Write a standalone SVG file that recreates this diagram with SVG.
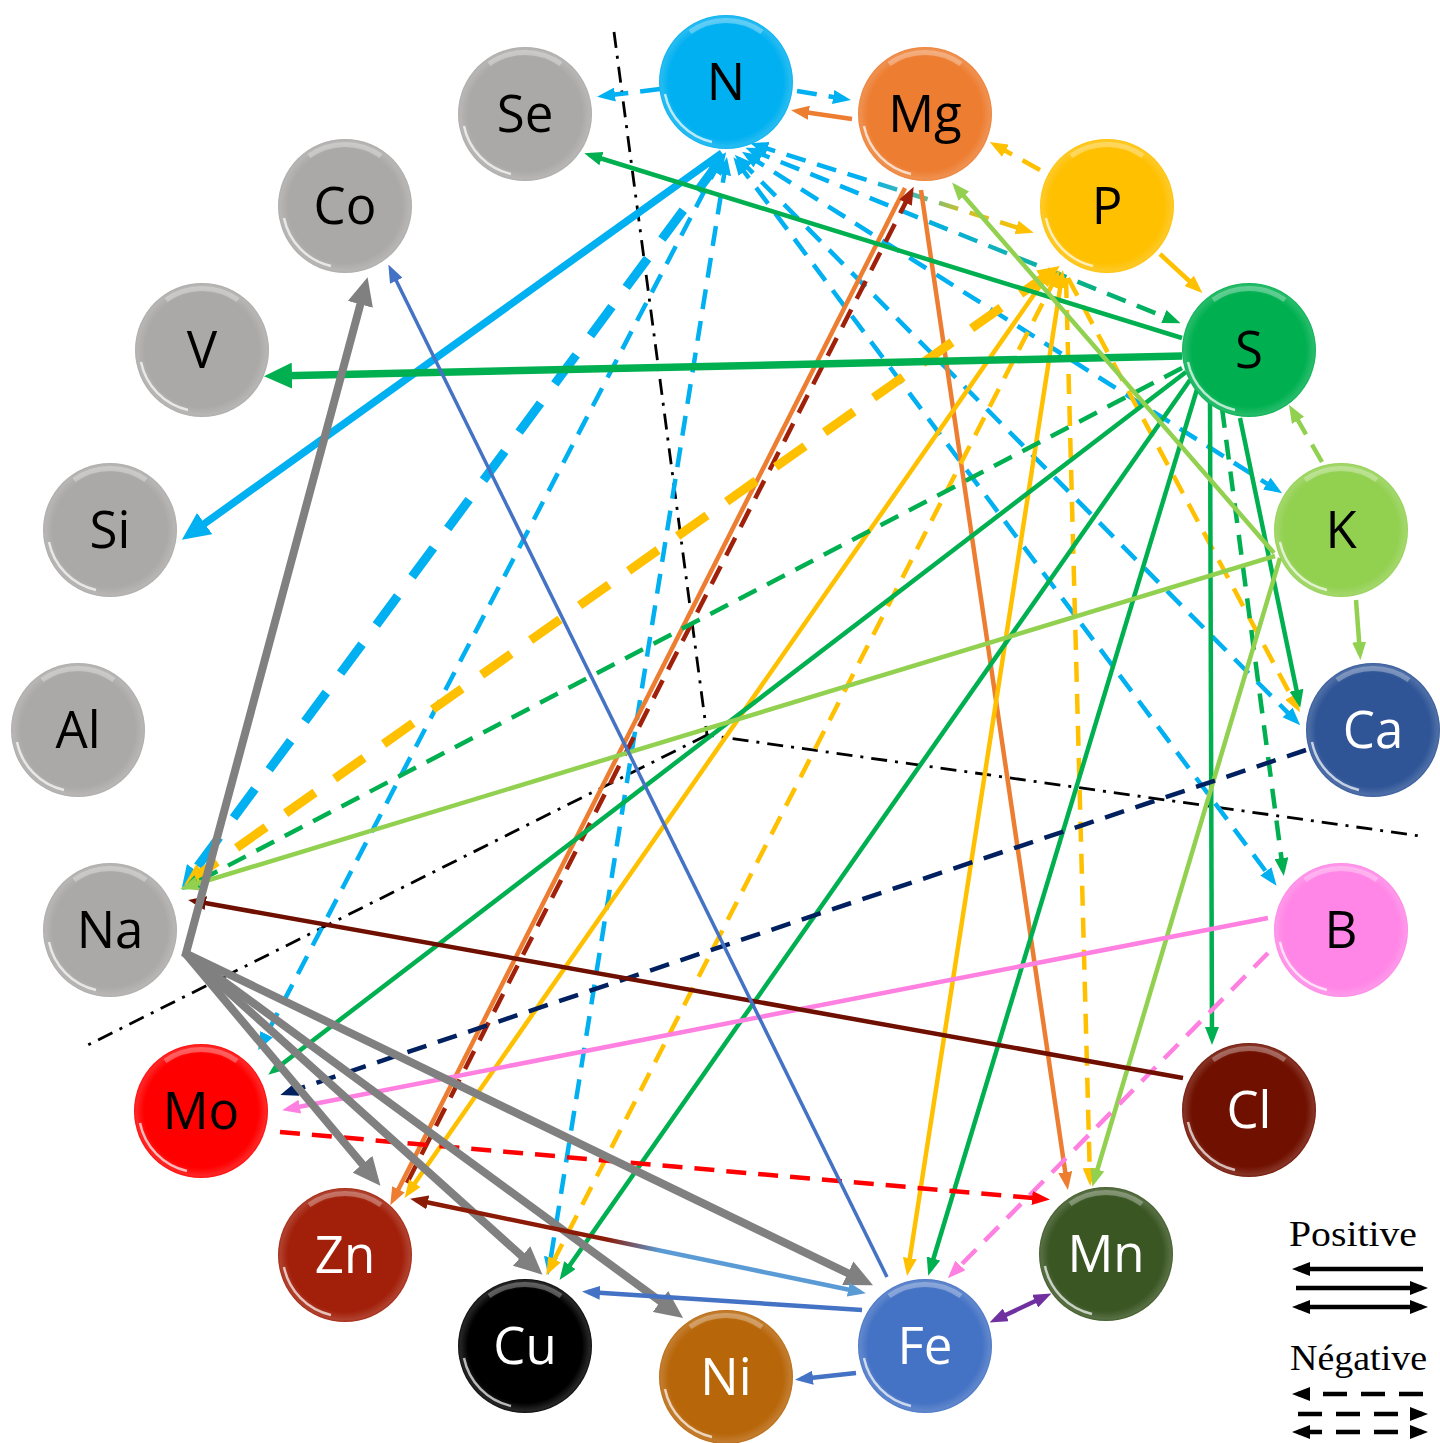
<svg xmlns="http://www.w3.org/2000/svg" xmlns:xlink="http://www.w3.org/1999/xlink" width="1440" height="1443" viewBox="0 0 1440 1443">
<style>
.lbl{font-family:"Open Sans","Noto Sans",sans-serif;font-size:51px;text-anchor:middle}
.w{fill:#fff}.k{fill:#000}
.d{stroke-dasharray:20 12}
.D{stroke-dasharray:36 24}
.leg{font-family:"Liberation Serif",serif;font-size:36px;fill:#000}
</style>
<defs>
<radialGradient id="rim" cx="50%" cy="50%" r="50%">
<stop offset="0.85" stop-color="#fff" stop-opacity="0"/>
<stop offset="0.97" stop-color="#fff" stop-opacity="0.15"/>
<stop offset="1" stop-color="#fff" stop-opacity="0.05"/>
</radialGradient>
<g id="gloss">
<circle r="67" fill="url(#rim)"/>
<path d="M-36,-50 A62,62 0 0 1 36,-50" fill="none" stroke="#fff" stroke-opacity="0.3" stroke-width="5"/>
<path d="M-61,12 A62,62 0 0 0 -14,60" fill="none" stroke="#fff" stroke-opacity="0.7" stroke-width="2.5"/>
</g>
<linearGradient id="g-ns" gradientUnits="userSpaceOnUse" x1="751" y1="150" x2="1175" y2="321">
<stop offset="0" stop-color="#00B0F0"/><stop offset="0.35" stop-color="#00B0F0"/><stop offset="0.6" stop-color="#10B0B8"/><stop offset="1" stop-color="#00B050"/>
</linearGradient>
<linearGradient id="g-np" gradientUnits="userSpaceOnUse" x1="756" y1="145" x2="1028" y2="231">
<stop offset="0" stop-color="#00B0F0"/><stop offset="0.4" stop-color="#00B0F0"/><stop offset="0.6" stop-color="#50B8A0"/><stop offset="0.75" stop-color="#C8C030"/><stop offset="1" stop-color="#FFC000"/>
</linearGradient>
<linearGradient id="g-znfe" gradientUnits="userSpaceOnUse" x1="416" y1="1200" x2="860" y2="1292">
<stop offset="0" stop-color="#8B1A06"/><stop offset="0.43" stop-color="#8B1A06"/><stop offset="0.55" stop-color="#5B9BD5"/><stop offset="1" stop-color="#5B9BD5"/>
</linearGradient>
<marker id="a-blue" viewBox="0 0 18 14" refX="12" refY="7" markerWidth="18" markerHeight="14" markerUnits="userSpaceOnUse" orient="auto-start-reverse"><path d="M0,0L18,7L0,14z" fill="#00B0F0"/></marker>
<marker id="a-orange" viewBox="0 0 18 14" refX="12" refY="7" markerWidth="18" markerHeight="14" markerUnits="userSpaceOnUse" orient="auto-start-reverse"><path d="M0,0L18,7L0,14z" fill="#ED7D31"/></marker>
<marker id="a-yellow" viewBox="0 0 18 14" refX="12" refY="7" markerWidth="18" markerHeight="14" markerUnits="userSpaceOnUse" orient="auto-start-reverse"><path d="M0,0L18,7L0,14z" fill="#FFC000"/></marker>
<marker id="a-green" viewBox="0 0 18 14" refX="12" refY="7" markerWidth="18" markerHeight="14" markerUnits="userSpaceOnUse" orient="auto-start-reverse"><path d="M0,0L18,7L0,14z" fill="#00B050"/></marker>
<marker id="a-lgreen" viewBox="0 0 18 14" refX="12" refY="7" markerWidth="18" markerHeight="14" markerUnits="userSpaceOnUse" orient="auto-start-reverse"><path d="M0,0L18,7L0,14z" fill="#92D050"/></marker>
<marker id="a-navy" viewBox="0 0 18 14" refX="12" refY="7" markerWidth="18" markerHeight="14" markerUnits="userSpaceOnUse" orient="auto-start-reverse"><path d="M0,0L18,7L0,14z" fill="#002060"/></marker>
<marker id="a-pink" viewBox="0 0 18 14" refX="12" refY="7" markerWidth="18" markerHeight="14" markerUnits="userSpaceOnUse" orient="auto-start-reverse"><path d="M0,0L18,7L0,14z" fill="#FF80E0"/></marker>
<marker id="a-darkred" viewBox="0 0 18 14" refX="12" refY="7" markerWidth="18" markerHeight="14" markerUnits="userSpaceOnUse" orient="auto-start-reverse"><path d="M0,0L18,7L0,14z" fill="#A0200A"/></marker>
<marker id="a-brown" viewBox="0 0 18 14" refX="12" refY="7" markerWidth="18" markerHeight="14" markerUnits="userSpaceOnUse" orient="auto-start-reverse"><path d="M0,0L18,7L0,14z" fill="#6F0F00"/></marker>
<marker id="a-znred" viewBox="0 0 18 14" refX="12" refY="7" markerWidth="18" markerHeight="14" markerUnits="userSpaceOnUse" orient="auto-start-reverse"><path d="M0,0L18,7L0,14z" fill="#8B1A06"/></marker>
<marker id="a-red" viewBox="0 0 18 14" refX="12" refY="7" markerWidth="18" markerHeight="14" markerUnits="userSpaceOnUse" orient="auto-start-reverse"><path d="M0,0L18,7L0,14z" fill="#FF0000"/></marker>
<marker id="a-fe" viewBox="0 0 18 14" refX="12" refY="7" markerWidth="18" markerHeight="14" markerUnits="userSpaceOnUse" orient="auto-start-reverse"><path d="M0,0L18,7L0,14z" fill="#4472C4"/></marker>
<marker id="a-lblue" viewBox="0 0 18 14" refX="12" refY="7" markerWidth="18" markerHeight="14" markerUnits="userSpaceOnUse" orient="auto-start-reverse"><path d="M0,0L18,7L0,14z" fill="#5B9BD5"/></marker>
<marker id="a-purple" viewBox="0 0 18 14" refX="12" refY="7" markerWidth="18" markerHeight="14" markerUnits="userSpaceOnUse" orient="auto-start-reverse"><path d="M0,0L18,7L0,14z" fill="#7030A0"/></marker>
<marker id="a-black" viewBox="0 0 18 14" refX="12" refY="7" markerWidth="18" markerHeight="14" markerUnits="userSpaceOnUse" orient="auto-start-reverse"><path d="M0,0L18,7L0,14z" fill="#000"/></marker>
<marker id="m-blue" viewBox="0 0 22 20" refX="10" refY="10" markerWidth="22" markerHeight="20" markerUnits="userSpaceOnUse" orient="auto-start-reverse"><path d="M0,0L22,10L0,20z" fill="#00B0F0"/></marker>
<marker id="m-yellow" viewBox="0 0 22 20" refX="10" refY="10" markerWidth="22" markerHeight="20" markerUnits="userSpaceOnUse" orient="auto-start-reverse"><path d="M0,0L22,10L0,20z" fill="#FFC000"/></marker>
<marker id="A-blue" viewBox="0 0 28 26" refX="18" refY="13" markerWidth="28" markerHeight="26" markerUnits="userSpaceOnUse" orient="auto-start-reverse"><path d="M0,0L28,13L0,26z" fill="#00B0F0"/></marker>
<marker id="A-green" viewBox="0 0 28 26" refX="18" refY="13" markerWidth="28" markerHeight="26" markerUnits="userSpaceOnUse" orient="auto-start-reverse"><path d="M0,0L28,13L0,26z" fill="#00B050"/></marker>
<marker id="A-gray" viewBox="0 0 28 26" refX="18" refY="13" markerWidth="28" markerHeight="26" markerUnits="userSpaceOnUse" orient="auto-start-reverse"><path d="M0,0L28,13L0,26z" fill="#808080"/></marker>
</defs>

<g id="guides" fill="none" stroke="#000" stroke-width="2.8" stroke-dasharray="16 8 3 8">
<path d="M614,32 L707,735 L1420,836"/>
<path d="M707,735 L88,1045"/>
</g>

<g id="connectors" fill="none" stroke-width="4.5">
<!-- N -->
<path d="M660,89 L603,96" stroke="#00B0F0" class="d" marker-end="url(#a-blue)"/>
<path d="M797,91 L845,99" stroke="#00B0F0" class="d" marker-end="url(#a-blue)"/>
<path d="M722,153 L190,534" stroke="#00B0F0" stroke-width="7.5" marker-end="url(#A-blue)"/>
<path d="M719,162 L189,878" stroke="#00B0F0" stroke-width="9" class="D" marker-start="url(#m-blue)" marker-end="url(#m-blue)"/>
<path d="M720,161 L261,1045" stroke="#00B0F0" class="d" marker-start="url(#a-blue)" marker-end="url(#a-blue)"/>
<path d="M726,163 L549,1269" stroke="#00B0F0" class="d" marker-start="url(#a-blue)" marker-end="url(#a-blue)"/>
<path d="M739,159 L1296,721" stroke="#00B0F0" class="d" marker-start="url(#a-blue)" marker-end="url(#a-blue)"/>
<path d="M737,162 L1273,881" stroke="#00B0F0" class="d" marker-start="url(#a-blue)" marker-end="url(#a-blue)"/>
<path d="M747,155 L1277,490" stroke="#00B0F0" class="d" marker-start="url(#a-blue)" marker-end="url(#a-blue)"/>
<path d="M751,150 L1175,321" stroke="url(#g-ns)" class="d" marker-start="url(#a-blue)" marker-end="url(#a-green)"/>
<path d="M756,145 L1028,231" stroke="url(#g-np)" class="d" marker-start="url(#a-blue)" marker-end="url(#a-yellow)"/>
<!-- Mg -->
<path d="M852,119 L797,111" stroke="#ED7D31" marker-end="url(#a-orange)"/>
<path d="M905,188 L393,1200" stroke="#ED7D31" marker-end="url(#a-orange)"/>
<path d="M921,190 L1067,1184" stroke="#ED7D31" marker-end="url(#a-orange)"/>
<path d="M407,1183 L911,192" stroke="#A0200A" class="d" marker-end="url(#a-darkred)"/>
<!-- P -->
<path d="M1040,170 L995,145" stroke="#FFC000" class="d" marker-end="url(#a-yellow)"/>
<path d="M1160,254 L1198,289" stroke="#FFC000" marker-end="url(#a-yellow)"/>
<path d="M1050,273 L194,878" stroke="#FFC000" stroke-width="9" class="D" marker-start="url(#m-yellow)" marker-end="url(#m-yellow)"/>
<path d="M1049,273 L408,1193" stroke="#FFC000" marker-start="url(#a-yellow)" marker-end="url(#a-yellow)"/>
<path d="M1057,275 L549,1270" stroke="#FFC000" class="d" marker-start="url(#a-yellow)" marker-end="url(#a-yellow)"/>
<path d="M1062,276 L908,1270" stroke="#FFC000" marker-start="url(#a-yellow)" marker-end="url(#a-yellow)"/>
<path d="M1066,278 L1090,1180" stroke="#FFC000" class="d" marker-end="url(#a-yellow)"/>
<path d="M1068,278 L1297,707" stroke="#FFC000" class="d" marker-end="url(#a-yellow)"/>
<!-- S -->
<path d="M1182,338 L590,155" stroke="#00B050" marker-end="url(#a-green)"/>
<path d="M1182,356 L274,376" stroke="#00B050" stroke-width="7.5" marker-end="url(#A-green)"/>
<path d="M1182,368 L187,887" stroke="#00B050" class="d" marker-end="url(#a-green)"/>
<path d="M1186,372 L273,1071" stroke="#00B050" marker-end="url(#a-green)"/>
<path d="M1190,380 L563,1275" stroke="#00B050" marker-end="url(#a-green)"/>
<path d="M1198,386 L930,1270" stroke="#00B050" marker-end="url(#a-green)"/>
<path d="M1210,400 L1212,1039" stroke="#00B050" marker-end="url(#a-green)"/>
<path d="M1222,408 L1283,870" stroke="#00B050" class="d" marker-end="url(#a-green)"/>
<path d="M1240,418 L1299,702" stroke="#00B050" marker-end="url(#a-green)"/>
<!-- K -->
<path d="M1322,462 L1292,410" stroke="#92D050" class="d" marker-end="url(#a-lgreen)"/>
<path d="M1274,553 L956,187" stroke="#92D050" marker-end="url(#a-lgreen)"/>
<path d="M1275,556 L186,887" stroke="#92D050" marker-end="url(#a-lgreen)"/>
<path d="M1280,558 L1094,1181" stroke="#92D050" marker-end="url(#a-lgreen)"/>
<path d="M1356,600 L1360,654" stroke="#92D050" marker-end="url(#a-lgreen)"/>
<!-- Ca, B, Cl, Mo -->
<path d="M1306,750 L286,1093" stroke="#002060" class="d" marker-end="url(#a-navy)"/>
<path d="M1268,918 L288,1109" stroke="#FF80E0" marker-end="url(#a-pink)"/>
<path d="M1268,953 L952,1274" stroke="#FF80E0" class="d" marker-end="url(#a-pink)"/>
<path d="M1183,1078 L194,901" stroke="#6F0F00" marker-end="url(#a-brown)"/>
<path d="M280,1132 L1044,1199" stroke="#FF0000" class="d" marker-end="url(#a-red)"/>
<!-- Na gray -->
<path d="M185,957 L365,287" stroke="#808080" stroke-width="8" marker-end="url(#A-gray)"/>
<path d="M185,953 L374,1178" stroke="#808080" stroke-width="8" marker-end="url(#A-gray)"/>
<path d="M185,953 L535,1268" stroke="#808080" stroke-width="8" marker-end="url(#A-gray)"/>
<path d="M185,953 L675,1312" stroke="#808080" stroke-width="8" marker-end="url(#A-gray)"/>
<path d="M185,953 L864,1281" stroke="#808080" stroke-width="8" marker-end="url(#A-gray)"/>
<!-- Fe -->
<path d="M887,1277 L391,270" stroke="#4472C4" stroke-width="3.5" marker-end="url(#a-fe)"/>
<path d="M416,1200 L860,1292" stroke="url(#g-znfe)" marker-start="url(#a-znred)" marker-end="url(#a-lblue)"/>
<path d="M862,1310 L588,1292" stroke="#4472C4" marker-end="url(#a-fe)"/>
<path d="M856,1373 L801,1379" stroke="#4472C4" marker-end="url(#a-fe)"/>
<path d="M995,1320 L1046,1296" stroke="#7030A0" marker-start="url(#a-purple)" marker-end="url(#a-purple)"/>
</g>

<g id="node-N" transform="translate(726,82)"><circle r="67" fill="#00B0F0"/><use href="#gloss"/><text class="lbl k" y="18">N</text></g>
<g id="node-Mg" transform="translate(925,114)"><circle r="67" fill="#ED7D31"/><use href="#gloss"/><text class="lbl k" y="18">Mg</text></g>
<g id="node-P" transform="translate(1107,206)"><circle r="67" fill="#FFC000"/><use href="#gloss"/><text class="lbl k" y="18">P</text></g>
<g id="node-S" transform="translate(1249,350)"><circle r="67" fill="#00B050"/><use href="#gloss"/><text class="lbl k" y="18">S</text></g>
<g id="node-K" transform="translate(1341,530)"><circle r="67" fill="#92D050"/><use href="#gloss"/><text class="lbl k" y="18">K</text></g>
<g id="node-Ca" transform="translate(1373,730)"><circle r="67" fill="#2F5597"/><use href="#gloss"/><text class="lbl w" y="18">Ca</text></g>
<g id="node-B" transform="translate(1341,930)"><circle r="67" fill="#FF85E6"/><use href="#gloss"/><text class="lbl k" y="18">B</text></g>
<g id="node-Cl" transform="translate(1249,1110)"><circle r="67" fill="#701000"/><use href="#gloss"/><text class="lbl w" y="18">Cl</text></g>
<g id="node-Mn" transform="translate(1106,1254)"><circle r="67" fill="#3A5623"/><use href="#gloss"/><text class="lbl w" y="18">Mn</text></g>
<g id="node-Fe" transform="translate(925,1346)"><circle r="67" fill="#4472C4"/><use href="#gloss"/><text class="lbl w" y="18">Fe</text></g>
<g id="node-Ni" transform="translate(726,1377)"><circle r="67" fill="#B8660A"/><use href="#gloss"/><text class="lbl w" y="18">Ni</text></g>
<g id="node-Cu" transform="translate(525,1346)"><circle r="67" fill="#000000"/><use href="#gloss"/><text class="lbl w" y="18">Cu</text></g>
<g id="node-Zn" transform="translate(345,1255)"><circle r="67" fill="#A2200A"/><use href="#gloss"/><text class="lbl w" y="18">Zn</text></g>
<g id="node-Mo" transform="translate(201,1111)"><circle r="67" fill="#FF0000"/><use href="#gloss"/><text class="lbl k" y="18">Mo</text></g>
<g id="node-Na" transform="translate(110,930)"><circle r="67" fill="#ABA9A8"/><use href="#gloss"/><text class="lbl k" y="18">Na</text></g>
<g id="node-Al" transform="translate(78,730)"><circle r="67" fill="#ABA9A8"/><use href="#gloss"/><text class="lbl k" y="18">Al</text></g>
<g id="node-Si" transform="translate(110,530)"><circle r="67" fill="#ABA9A8"/><use href="#gloss"/><text class="lbl k" y="18">Si</text></g>
<g id="node-V" transform="translate(202,350)"><circle r="67" fill="#ABA9A8"/><use href="#gloss"/><text class="lbl k" y="18">V</text></g>
<g id="node-Co" transform="translate(345,206)"><circle r="67" fill="#ABA9A8"/><use href="#gloss"/><text class="lbl k" y="18">Co</text></g>
<g id="node-Se" transform="translate(525,114)"><circle r="67" fill="#ABA9A8"/><use href="#gloss"/><text class="lbl k" y="18">Se</text></g>

<g id="legend" fill="none" stroke="#000" stroke-width="4.5">
<text class="leg" x="1289" y="1246" stroke="none" textLength="128" lengthAdjust="spacingAndGlyphs">Positive</text>
<path d="M1423,1269 L1298,1269" marker-end="url(#a-black)"/>
<path d="M1296,1288 L1422,1288" marker-end="url(#a-black)"/>
<path d="M1298,1307 L1422,1307" marker-start="url(#a-black)" marker-end="url(#a-black)"/>
<text class="leg" x="1290" y="1370" stroke="none" textLength="137" lengthAdjust="spacingAndGlyphs">Négative</text>
<path d="M1423,1394 L1298,1394" stroke-dasharray="24 14" marker-end="url(#a-black)"/>
<path d="M1298,1414 L1422,1414" stroke-dasharray="24 14" marker-end="url(#a-black)"/>
<path d="M1298,1432 L1422,1432" stroke-dasharray="24 14" marker-start="url(#a-black)" marker-end="url(#a-black)"/>
</g>
</svg>
